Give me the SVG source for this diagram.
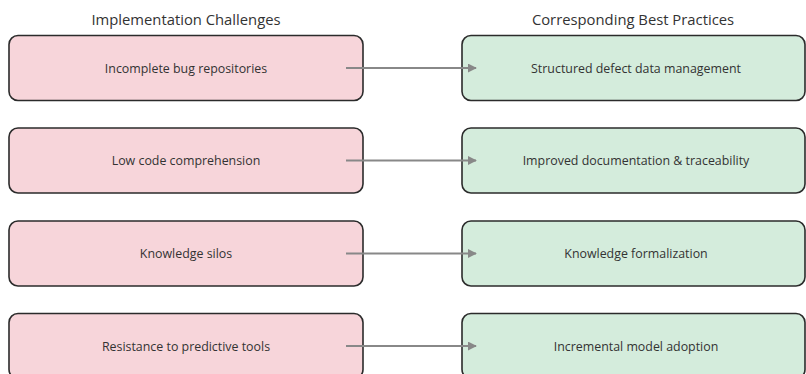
<svg xmlns="http://www.w3.org/2000/svg" width="806" height="374" viewBox="0 0 806 374">
<style>
.title{font-family:"Open Sans","Liberation Sans",sans-serif;font-size:14.8px;fill:#333;text-anchor:middle}
.lbl{font-family:"Open Sans","Liberation Sans",sans-serif;font-size:12.4px;fill:#333;text-anchor:middle;dominant-baseline:central}
.ch{fill:#f7d5da;stroke:#2b2b2b;stroke-width:1.6}
.bp{fill:#d4ecdc;stroke:#2b2b2b;stroke-width:1.6}
.conn{stroke:#888;stroke-width:2;fill:none}
</style>
<defs>
<marker id="ah" viewBox="0 0 10 10" refX="9" refY="5" markerWidth="4.5" markerHeight="4.5" orient="auto" markerUnits="strokeWidth">
<path d="M0,0 L10,5 L0,10 z" fill="#888"/>
</marker>
</defs>
<rect width="806" height="374" fill="#fff"/>
<text class="title" x="186" y="25">Implementation Challenges</text>
<text class="title" x="633" y="25">Corresponding Best Practices</text>
<g id="c1"><rect class="ch" x="9" y="35.5" width="354" height="65" rx="9"/><text class="lbl" x="186" y="68">Incomplete bug repositories</text></g>
<g id="c2"><rect class="ch" x="9" y="128" width="354" height="65" rx="9"/><text class="lbl" x="186" y="160.5">Low code comprehension</text></g>
<g id="c3"><rect class="ch" x="9" y="221" width="354" height="65" rx="9"/><text class="lbl" x="186" y="253.5">Knowledge silos</text></g>
<g id="c4"><rect class="ch" x="9" y="313.5" width="354" height="65" rx="9"/><text class="lbl" x="186" y="346">Resistance to predictive tools</text></g>
<g id="b1"><rect class="bp" x="462" y="35.5" width="343" height="65" rx="9"/><text class="lbl" x="636" y="68">Structured defect data management</text></g>
<g id="b2"><rect class="bp" x="462" y="128" width="343" height="65" rx="9"/><text class="lbl" x="636" y="160.5">Improved documentation &amp; traceability</text></g>
<g id="b3"><rect class="bp" x="462" y="221" width="343" height="65" rx="9"/><text class="lbl" x="636" y="253.5">Knowledge formalization</text></g>
<g id="b4"><rect class="bp" x="462" y="313.5" width="343" height="65" rx="9"/><text class="lbl" x="636" y="346">Incremental model adoption</text></g>
<g id="connectors">
<line class="conn" x1="346" y1="68" x2="476" y2="68" marker-end="url(#ah)"/>
<line class="conn" x1="346" y1="160.5" x2="476" y2="160.5" marker-end="url(#ah)"/>
<line class="conn" x1="346" y1="253.5" x2="476" y2="253.5" marker-end="url(#ah)"/>
<line class="conn" x1="346" y1="346" x2="476" y2="346" marker-end="url(#ah)"/>
</g>
</svg>
